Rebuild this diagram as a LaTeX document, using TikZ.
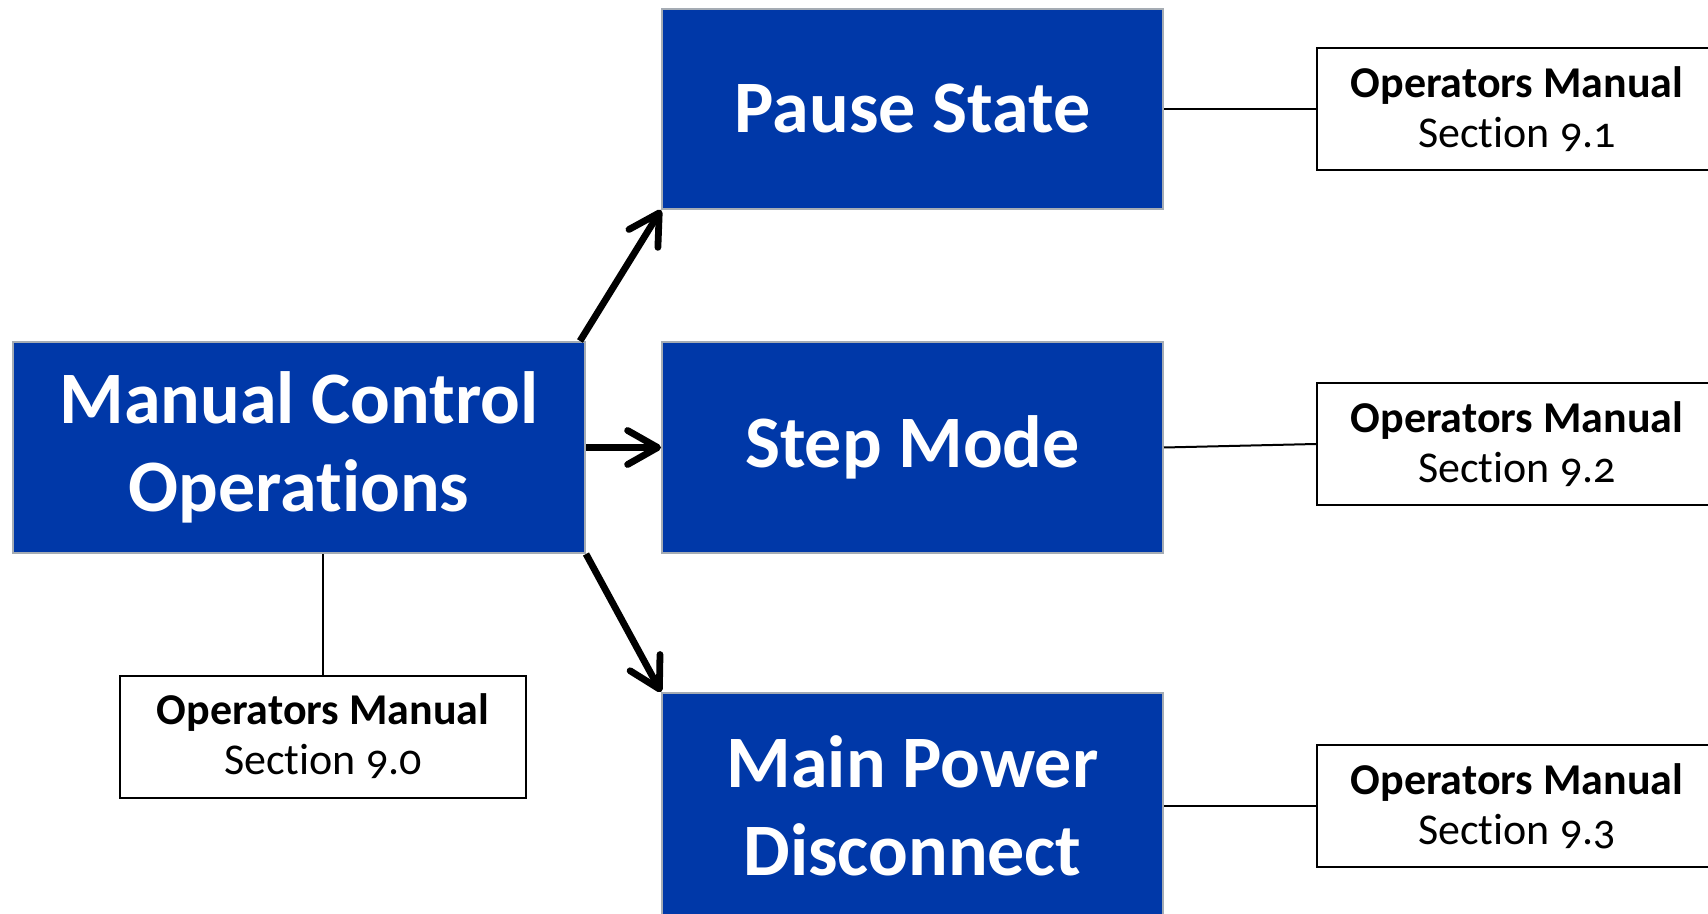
\documentclass[tikz,border=0pt]{standalone}
\usepackage{fontspec}
\setmainfont{Carlito}[Ligatures=NoCommon]
\newfontfamily\secfont[Numbers=OldStyle, Ligatures=NoCommon]{Carlito}
\usepackage{tikz}
\usetikzlibrary{arrows.meta}
\definecolor{opblue}{RGB}{0,56,168}
\definecolor{opgray}{RGB}{165,172,180}

\begin{document}
\begin{tikzpicture}[
    x=0.5pt, y=-0.5pt,
    mode/.style={draw=opgray, line width=1pt, fill=opblue, text=white, align=center, minimum width=250.5pt, minimum height=105.5pt, inner sep=0pt, font=\fontsize{37}{44}\selectfont\bfseries},
    manual/.style={draw, line width=1pt, fill=white, align=center, minimum width=200pt, minimum height=61pt, inner sep=0pt, font=\fontsize{22}{25}\selectfont},
    flow/.style={line width=3.4pt, -{Straight Barb[length=15pt, width=17pt, line cap=round, line join=round]}},
    link/.style={line width=1pt}
  ]
  \path[use as bounding box, clip] (0,0) rectangle (1708,914);

  % Main box
  \node[mode, minimum width=286pt] (mco) at (299, 447.5) {Manual Control\\Operations};

  % Modes
  \node[mode, minimum height=100pt] (pause) at (912.5, 109) {Pause State};
  \node[mode] (stepm) at (912.5, 447.5) {Step Mode};
  \node[mode, minimum height=113pt] (mpd) at (912.5, 806) {Main Power\\Disconnect};

  % Manual references
  \node[manual, minimum width=203pt] (ref0) at (323, 736.5) {\textbf{Operators Manual}\\\secfont Section 9.0};
  \foreach \n/\y in {1/109, 2/444, 3/806} {
    \node[manual] (ref\n) at (1517, \y) {\textbf{Operators Manual}\\\secfont Section 9.\n};
  }

  % Edges
  \draw[flow] ([xshift=-3pt]mco.north east) -- (pause.south west);
  \draw[flow] (mco.east) -- (stepm.west);
  \draw[flow] (mco.south east) -- (mpd.north west);
  \draw[link] (pause.east) -- (ref1.west);
  \draw[link] (stepm.east) -- (ref2.west);
  \draw[link] (mpd.east) -- (ref3.west);
  \draw[link] (ref0.north) -- (ref0.north |- mco.south);
\end{tikzpicture}
\end{document}
